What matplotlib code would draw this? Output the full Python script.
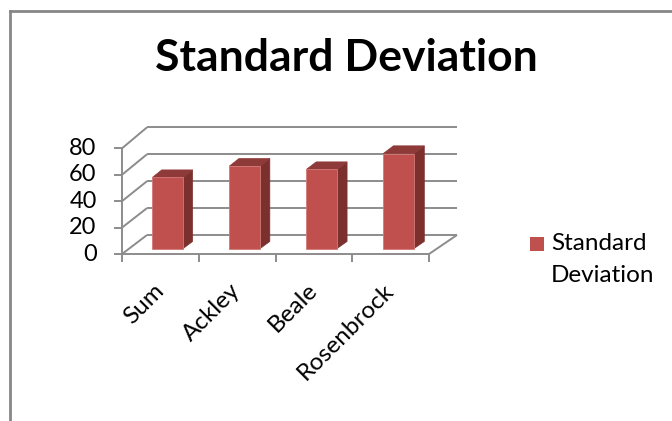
import matplotlib
matplotlib.use("Agg")
import matplotlib.pyplot as plt
from matplotlib.patches import Polygon, Rectangle
from matplotlib.transforms import offset_copy

# Chart data
categories = ["Sum", "Ackley", "Beale", "Rosenbrock"]
std_values = [53.5, 62.0, 59.5, 71.5]
y_ticks = [0, 20, 40, 60, 80]
series_name = "Standard Deviation"

FONT = "Lato"
GRID = "#8c8c8c"
FRONT = "#c0504d"
SIDE = "#7b302e"
TOP = "#8e3a38"
LABEL_SIZE = 17.5

fig = plt.figure(figsize=(6.72, 4.21), dpi=100)
ax = fig.add_axes([0, 0, 1, 1])
ax.set_xlim(-1.5896, 7.166)
ax.set_ylim(-126.4, 192.3)
ax.axis("off")

n = len(categories)
vmax = y_ticks[-1]


def proj(x, v, d):
    """Oblique projection of (category x, value v, depth d in 0..1) onto the front plane."""
    return (x * (1 + 0.0097 * d) + 0.326 * d, v * (1 + 0.019 * d) + 14.4 * d)


def line3d(p, q, **kw):
    a = proj(*p)
    b = proj(*q)
    ax.plot([a[0], b[0]], [a[1], b[1]], color=GRID, lw=1.4,
            solid_capstyle="butt", **kw)


# back wall gridlines and side wall gridlines
for t in y_ticks:
    line3d((0, t, 1), (n, t, 1))
    line3d((0, t, 0), (0, t, 1))
# floor
line3d((0, 0, 0), (n, 0, 0))
line3d((n, 0, 0), (n, 0, 1))
# front value axis
line3d((0, 0, 0), (0, vmax, 0))

# value axis ticks and labels
for t in y_ticks:
    x0, y0 = proj(0, t, 0)
    ax.plot([x0 - 0.11, x0], [y0, y0], color=GRID, lw=1.4, solid_capstyle="butt")
    ax.text(x0 - 0.33, y0, f"{t}", ha="right", va="center",
            fontsize=17, family=FONT, color="black")

# category ticks
for i in range(n + 1):
    x0, y0 = proj(i, 0, 0)
    ax.plot([x0, x0], [y0, y0 - 6], color=GRID, lw=1.4, solid_capstyle="butt")

# category labels
for i, c in enumerate(categories):
    x0, y0 = proj(i + 0.5, 0, 0)
    tr = offset_copy(ax.transData, fig=fig, x=0, y=-33, units="dots")
    ax.text(x0, y0, c, transform=tr, rotation=45, rotation_mode="anchor",
            ha="right", va="center", fontsize=LABEL_SIZE, family=FONT, color="black")

# 3D columns
bw0, bw1 = 0.3, 0.7
d0, d1 = 0.29, 0.66
for i, val in enumerate(std_values):
    xa, xb = i + bw0, i + bw1
    front = [proj(xa, 0, d0), proj(xb, 0, d0), proj(xb, val, d0), proj(xa, val, d0)]
    side = [proj(xb, 0, d0), proj(xb, 0, d1), proj(xb, val, d1), proj(xb, val, d0)]
    top = [proj(xa, val, d0), proj(xb, val, d0), proj(xb, val, d1), proj(xa, val, d1)]
    ax.add_patch(Polygon(side, closed=True, facecolor=SIDE, edgecolor=SIDE, lw=0.5, zorder=3))
    ax.add_patch(Polygon(top, closed=True, facecolor=TOP, edgecolor=TOP, lw=0.5, zorder=3))
    ax.add_patch(Polygon(front, closed=True, facecolor=FRONT, edgecolor="#d27a77", lw=0.6, zorder=4))

# title
fig.text(0.515, 0.862, "Standard Deviation", ha="center", va="center",
         fontsize=32, fontweight="bold", family=FONT, color="black")

# legend
fig.patches.append(Rectangle((530 / 672, 1 - 251 / 421), 14 / 672, 14 / 421,
                             transform=fig.transFigure, facecolor=FRONT,
                             edgecolor="none", figure=fig))
fig.text(551 / 672, 1 - 243 / 421, "Standard", ha="left", va="center",
         fontsize=LABEL_SIZE, family=FONT, color="black")
fig.text(551 / 672, 1 - 275 / 421, "Deviation", ha="left", va="center",
         fontsize=LABEL_SIZE, family=FONT, color="black")

# chart frame (partially cropped at right and bottom)
fig.add_artist(plt.Line2D([9.5 / 672, 9.5 / 672], [0, 1 - 11 / 421],
                          transform=fig.transFigure, color="#878787", lw=2))
fig.add_artist(plt.Line2D([9.5 / 672, 1], [1 - 11 / 421, 1 - 11 / 421],
                          transform=fig.transFigure, color="#878787", lw=2))

fig.savefig("out.png", dpi=100)
